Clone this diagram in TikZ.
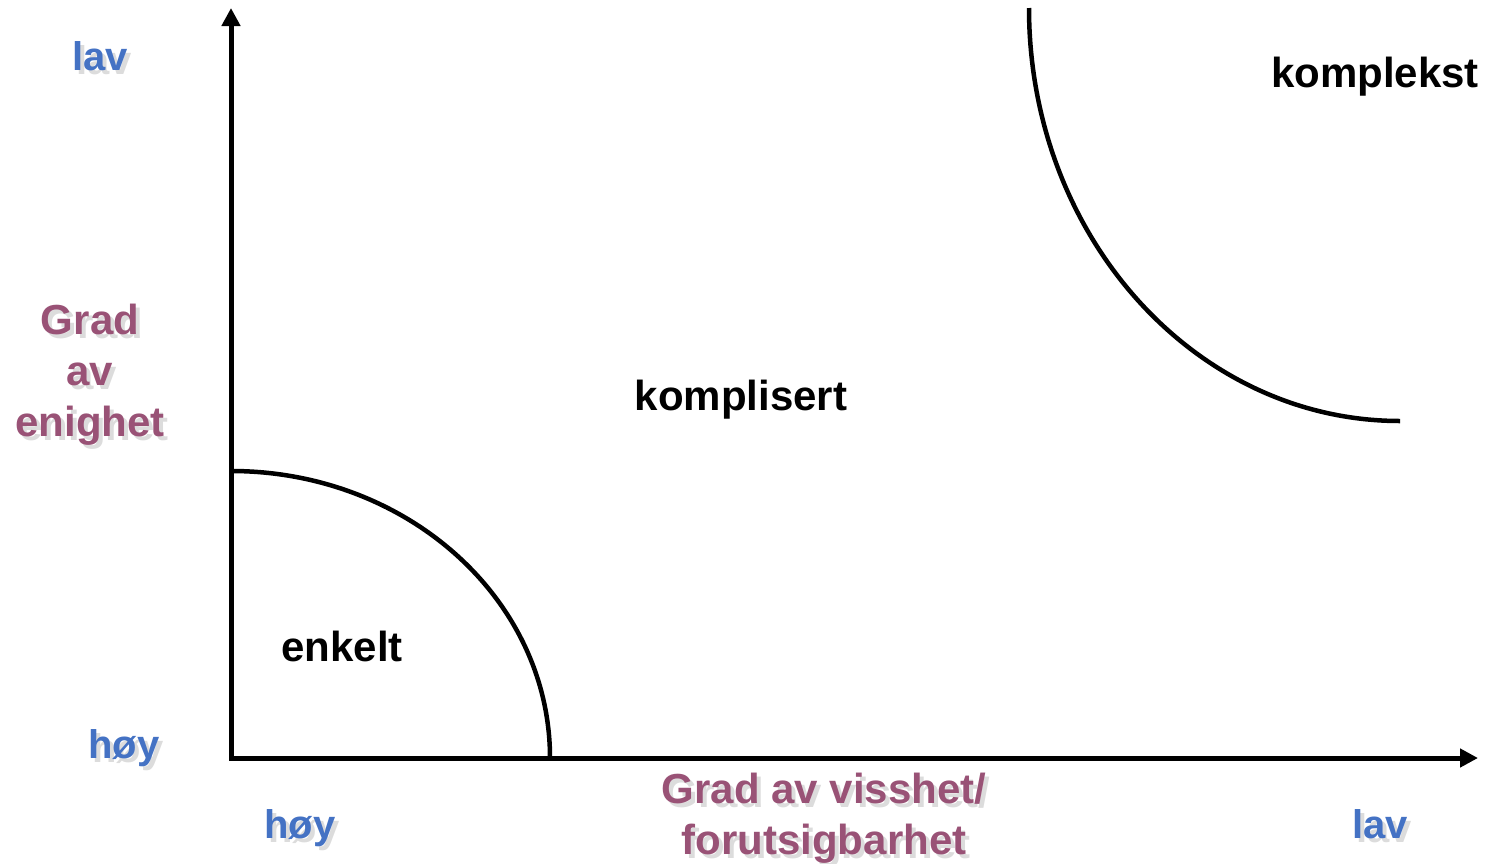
\documentclass[tikz,border=0pt]{standalone}
\usepackage{fontspec}
\setmainfont{Liberation Sans}
\usetikzlibrary{arrows.meta,calc}

\definecolor{axisblue}{RGB}{68,114,196}
\definecolor{titlepurple}{RGB}{153,82,118}
\definecolor{shadowgray}{RGB}{220,220,220}

% text with a soft drop shadow, placed by its baseline
\newcommand{\shadowtext}[6]{%
  \node[#4, text=shadowgray] (#1-sh) at ($(#2,#3)+(4,4)$) {#6};
  \node[#4, text=#5] (#1) at (#2,#3) {#6};
}

\begin{document}
\begin{tikzpicture}[x=1pt, y=-1pt,
  lbl/.style={font=\bfseries\fontsize{42}{51}\selectfont, inner sep=0pt, anchor=base},
  small/.style={font=\bfseries\fontsize{40}{48}\selectfont, inner sep=0pt, anchor=base},
  axisline/.style={line width=5pt, black, miter limit=10},
  boundary/.style={line width=4.5pt, black},
]
\useasboundingbox (0,0) rectangle (1488,863);

% axes
\coordinate (origin) at (231,758);
\coordinate (ytop) at (231,8);
\coordinate (xend) at (1478,758);
\draw[axisline, {Triangle[length=18pt,width=18pt]}-{Triangle[length=18pt,width=18pt]}]
  (ytop) -- (origin) -- (xend);

% region boundaries
\draw[boundary] (231,471) arc[start angle=-90, end angle=0, x radius=319, y radius=287];
\draw[boundary] (1029,8) arc[start angle=180, end angle=90, x radius=371, y radius=413];

% region names
\node[lbl] (komplekst) at (1375,87) {komplekst};
\node[lbl] (komplisert) at (741,410) {komplisert};
\node[lbl] (enkelt) at (342,661) {enkelt};

% axis ends
\shadowtext{ylav}{100}{70}{small}{axisblue}{lav}
\shadowtext{yhoy}{124}{758}{small}{axisblue}{høy}
\shadowtext{xhoy}{300}{838}{small}{axisblue}{høy}
\shadowtext{xlav}{1380}{838}{small}{axisblue}{lav}

% axis titles
\shadowtext{ytitleA}{90}{334}{lbl}{titlepurple}{Grad}
\shadowtext{ytitleB}{90}{385}{lbl}{titlepurple}{av}
\shadowtext{ytitleC}{90}{436}{lbl}{titlepurple}{enighet}
\shadowtext{xtitleA}{824}{803}{lbl}{titlepurple}{Grad av visshet/}
\shadowtext{xtitleB}{824}{854}{lbl}{titlepurple}{forutsigbarhet}
\end{tikzpicture}
\end{document}
